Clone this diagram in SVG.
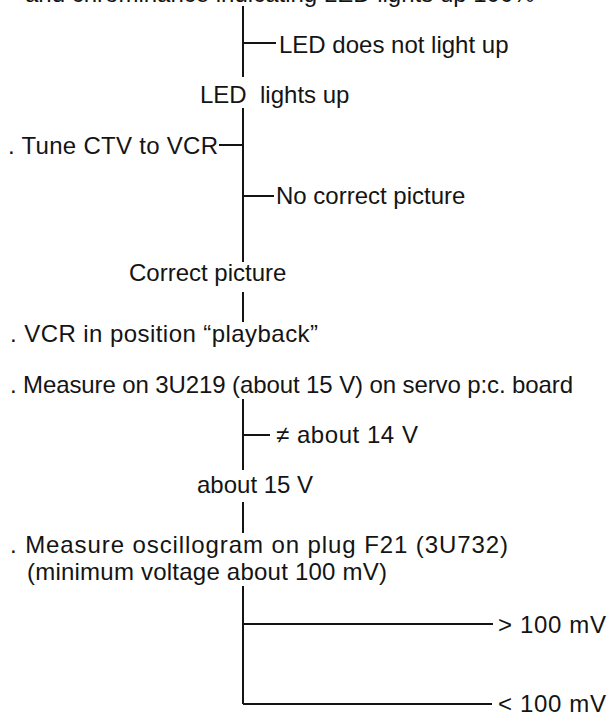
<svg xmlns="http://www.w3.org/2000/svg" width="609" height="715" viewBox="0 0 609 715">
<style>
text{font-family:"Liberation Sans",Arial,sans-serif;font-size:24px;fill:#141414}
.ln{stroke:#141414;stroke-width:2;fill:none;stroke-linecap:butt}
</style>
<rect width="609" height="715" fill="#ffffff"/>
<g id="connectors">
<path class="ln" d="M243 6V77M243 43H276"/>
<path class="ln" d="M243 108V262M219 145H243M243 196H274"/>
<path class="ln" d="M243 292V322"/>
<path class="ln" d="M243 399V470M243 435H270"/>
<path class="ln" d="M243 502V533"/>
<path class="ln" d="M243 586V704M243 624H493M243 704H492"/>
</g>
<g id="n0"><text x="25" y="2">and chrominance indicating LED lights up 100%</text></g>
<g id="n1"><text x="279" y="53">LED does not light up</text></g>
<g id="n2"><text x="200" y="103" xml:space="preserve">LED  lights up</text></g>
<g id="n3"><text x="8" y="154" textLength="210" lengthAdjust="spacing">. Tune CTV to VCR</text></g>
<g id="n4"><text x="276" y="204">No correct picture</text></g>
<g id="n5"><text x="129" y="281">Correct picture</text></g>
<g id="n6"><text x="10" y="342" textLength="308" lengthAdjust="spacing">. VCR in position “playback”</text></g>
<g id="n7"><text x="10" y="393" textLength="563" lengthAdjust="spacing">. Measure on 3U219 (about 15 V) on servo p:c. board</text></g>
<g id="n8"><text x="276" y="443" textLength="142" lengthAdjust="spacing">≠ about 14 V</text></g>
<g id="n9"><text x="197" y="493">about 15 V</text></g>
<g id="n10"><text x="10" y="553" textLength="498" lengthAdjust="spacing">. Measure oscillogram on plug F21 (3U732)</text><text x="27" y="580" textLength="360" lengthAdjust="spacing">(minimum voltage about 100 mV)</text></g>
<g id="n11"><text x="498" y="633" textLength="108" lengthAdjust="spacing">&gt; 100 mV</text></g>
<g id="n12"><text x="498" y="712" textLength="108" lengthAdjust="spacing">&lt; 100 mV</text></g>
</svg>
